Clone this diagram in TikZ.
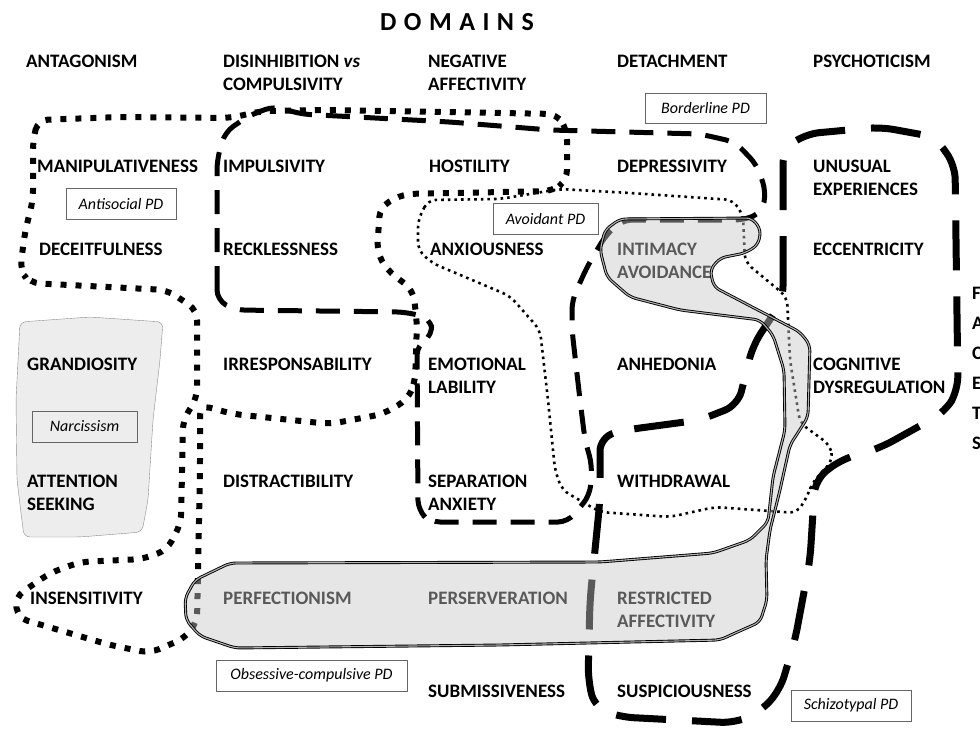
\documentclass[tikz,border=0pt]{standalone}
\usepackage{xcolor}
\usepackage{fontspec}
\setmainfont{Carlito}
\usepackage{tikz}

\tikzset{
    facet/.style={anchor=north west, inner sep=0pt, align=left, font=\fontsize{19}{22.5}\selectfont\bfseries},
    pdlabel/.style={draw=black!60, fill=white, thick, inner sep=0pt, minimum height=31pt, font=\fontsize{16}{19}\selectfont\itshape},
    antisocial/.style={line width=6pt, dash pattern=on 6pt off 9pt},
    borderline/.style={line width=5pt, dash pattern=on 24pt off 14pt},
    schizotypal/.style={line width=7pt, dash pattern=on 50pt off 26pt},
    avoidant/.style={line width=2.6pt, dash pattern=on 2.6pt off 4pt},
    ocpd/.style={draw=black, line width=0.9pt, double=black!30, double distance=1.1pt, fill=black!22, fill opacity=0.45},
    narcshape/.style={draw=black!45, thin, fill=black!7}
}

\begin{document}
\begin{tikzpicture}[x=1pt, y=-1pt]
    \useasboundingbox (0,0) rectangle (980,729);

    \draw[narcshape, rounded corners=6pt] (20,322) -- (90,317) -- (163,322) -- (160,360) -- (153,420) -- (148,500) -- (142,532) -- (80,537) -- (24,537) -- (17,480) -- (16,400) -- cycle;

    \node[font=\fontsize{26}{30}\selectfont\bfseries] (title) at (457,22) {D\hspace{7.5pt}O\hspace{7.5pt}M\hspace{7.5pt}A\hspace{7.5pt}I\hspace{7.5pt}N\hspace{7.5pt}S};

    \node[facet] (antag) at (26,55) {ANTAGONISM};
    \node[facet] (disinh) at (223,55) {DISINHIBITION \textit{vs}\\COMPULSIVITY};
    \node[facet] (negaff) at (428,55) {NEGATIVE\\AFFECTIVITY};
    \node[facet] (detach) at (617,55) {DETACHMENT};
    \node[facet] (psycho) at (813,55) {PSYCHOTICISM};

    \node[facet] (manip) at (37,160) {MANIPULATIVENESS};
    \node[facet] (impuls) at (223,160) {IMPULSIVITY};
    \node[facet] (hostil) at (429,160) {HOSTILITY};
    \node[facet] (depress) at (617,160) {DEPRESSIVITY};
    \node[facet] (unusual) at (813,160) {UNUSUAL\\EXPERIENCES};

    \node[facet] (deceit) at (39,243) {DECEITFULNESS};
    \node[facet] (reckless) at (223,243) {RECKLESSNESS};
    \node[facet] (anxious) at (430,243) {ANXIOUSNESS};
    \node[facet] (intimacy) at (617,243) {INTIMACY\\AVOIDANCE};
    \node[facet] (eccentric) at (813,243) {ECCENTRICITY};

    \node[facet] (grandios) at (27,358) {GRANDIOSITY};
    \node[facet] (irrespons) at (223,358) {IRRESPONSABILITY};
    \node[facet] (emotional) at (428,358) {EMOTIONAL\\LABILITY};
    \node[facet] (anhedonia) at (617,358) {ANHEDONIA};
    \node[facet] (cognitive) at (813,358) {COGNITIVE\\DYSREGULATION};

    \node[facet] (attention) at (27,475) {ATTENTION\\SEEKING};
    \node[facet] (distract) at (223,475) {DISTRACTIBILITY};
    \node[facet] (separation) at (428,475) {SEPARATION\\ANXIETY};
    \node[facet] (withdraw) at (617,475) {WITHDRAWAL};

    \node[facet] (insens) at (30,592) {INSENSITIVITY};
    \node[facet] (perfect) at (223,592) {PERFECTIONISM};
    \node[facet] (persev) at (428,592) {PERSERVERATION};
    \node[facet] (restrict) at (617,592) {RESTRICTED\\AFFECTIVITY};

    \node[facet] (submiss) at (428,685) {SUBMISSIVENESS};
    \node[facet] (suspic) at (617,685) {SUSPICIOUSNESS};

    \foreach \ch [count=\i from 0] in {F,A,C,E,T,S}
        \node[facet] (facets\i) at (972,{287+30*\i}) {\ch};

    % antisocial PD
    \draw[antisocial, rounded corners=10pt] (33,140) -- (38,120) -- (120,117) -- (230,118) -- (262,111) -- (330,110) -- (557,114) -- (567,130) -- (567,180) -- (553,191) -- (403,194) -- (380,207) -- (377,252) -- (387,270) -- (413,290) -- (417,322) -- (415,383) -- (407,400) -- (383,414) -- (330,424) -- (233,414) -- (200,405) -- (200,470) -- (197,622) -- (185,638) -- (150,653) -- (110,645) -- (18,618) -- (15,597) -- (50,573) -- (80,562) -- (143,559) -- (167,550) -- (181,523) -- (183,420) -- (197,398) -- (197,310) -- (167,290) -- (30,283) -- (20,270) -- (25,232) -- (33,200) -- cycle;

    % borderline PD
    \draw[borderline, rounded corners=10pt] (217,300) -- (217,160) -- (225,132) -- (250,115) -- (275,106) -- (300,114) -- (450,122) -- (550,130) -- (700,134) -- (735,142) -- (757,165) -- (766,192) -- (762,212) -- (745,220) -- (622,220) -- (606,235) -- (588,265) -- (572,300) -- (572,330) -- (580,400) -- (585,440) -- (592,465) -- (590,495) -- (568,522) -- (430,522) -- (418,510) -- (417,345) -- (433,335) -- (430,318) -- (405,312) -- (235,310) -- cycle;

    % avoidant PD
    \draw[avoidant, rounded corners=8pt] (428,200) -- (418,220) -- (418,250) -- (432,263) -- (510,296) -- (540,330) -- (548,400) -- (555,470) -- (562,490) -- (600,512) -- (670,517) -- (715,507) -- (797,513) -- (808,495) -- (812,483) -- (833,460) -- (830,445) -- (800,423) -- (790,360) -- (787,297) -- (745,262) -- (743,215) -- (733,200) -- (630,193) -- (560,189) -- (500,199) -- cycle;

    % schizotypal PD
    \draw[schizotypal, rounded corners=14pt] (783,300) -- (783,150) -- (805,134) -- (880,127) -- (935,137) -- (955,165) -- (958,390) -- (945,412) -- (880,448) -- (840,460) -- (815,480) -- (810,560) -- (795,640) -- (780,690) -- (760,712) -- (735,723) -- (620,717) -- (595,708) -- (588,680) -- (590,600) -- (600,500) -- (600,437) -- (625,430) -- (700,420) -- (738,405) -- (753,345) -- cycle;

    % obsessive-compulsive PD
    \draw[ocpd, rounded corners=6pt] (230,563) -- (600,562) -- (713,553) -- (750,540) -- (768,522) -- (773,477) -- (785,430) -- (784,370) -- (773,335) -- (760,320) -- (680,310) -- (630,297) -- (607,277) -- (600,250) -- (605,230) -- (620,219) -- (752,218) -- (761,230) -- (758,245) -- (745,253) -- (720,258) -- (710,270) -- (714,287) -- (800,332) -- (810,345) -- (808,417) -- (790,445) -- (780,490) -- (770,530) -- (766,560) -- (767,600) -- (760,622) -- (733,634) -- (720,640) -- (500,645) -- (235,648) -- (200,636) -- (186,620) -- (185,598) -- (195,580) -- cycle;

    \node[pdlabel, minimum width=110pt] (antisocialpd) at (121,203.5) {Antisocial PD};
    \node[pdlabel, minimum width=105pt, fill=none] (narcpd) at (84.5,426.5) {Narcissism};
    \node[pdlabel, minimum width=121pt, minimum height=30pt] (borderlinepd) at (705.5,108) {Borderline PD};
    \node[pdlabel, minimum width=105pt] (avoidantpd) at (545.5,218.5) {Avoidant PD};
    \node[pdlabel, minimum width=191pt] (ocpdpd) at (311.5,675.5) {Obsessive-compulsive PD};
    \node[pdlabel, minimum width=120pt] (schizopd) at (851,705.5) {Schizotypal PD};
\end{tikzpicture}
\end{document}
